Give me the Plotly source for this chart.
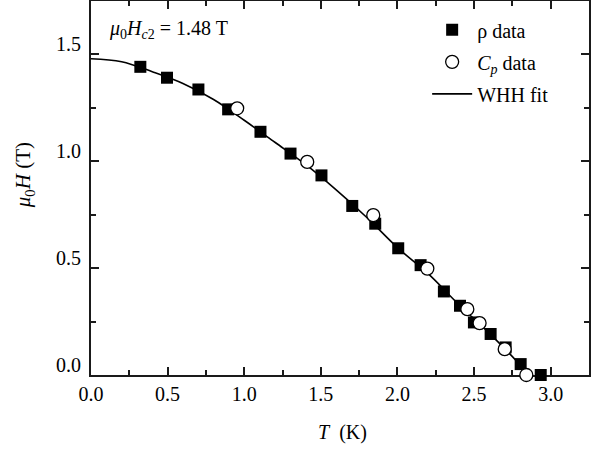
import plotly.graph_objects as go

# rho data (squares)
rho_T = [0.322, 0.496, 0.701, 0.895, 1.106, 1.302, 1.504, 1.705, 1.855, 2.005, 2.151, 2.303,
         2.408, 2.499, 2.608, 2.706, 2.804, 2.935]
rho_H = [1.442, 1.391, 1.336, 1.243, 1.138, 1.036, 0.934, 0.791, 0.708, 0.593, 0.514, 0.391,
         0.324, 0.246, 0.192, 0.129, 0.051, 0.0]

# Cp data (open circles)
cp_T = [0.954, 1.411, 1.842, 2.195, 2.456, 2.536, 2.700, 2.841]
cp_H = [1.248, 0.997, 0.748, 0.498, 0.308, 0.243, 0.121, 0.0]

# WHH fit curve
fit_T = [0.0, 0.2, 0.4, 0.6, 0.8, 1.0, 1.2, 1.4, 1.6, 1.8, 2.0, 2.2, 2.4, 2.6, 2.7, 2.8, 2.835]
fit_H = [1.48, 1.466, 1.419, 1.364, 1.289, 1.192, 1.089, 0.985, 0.866, 0.737, 0.596, 0.474,
         0.33, 0.195, 0.123, 0.045, 0.0]

x_ticks = [0.0, 0.5, 1.0, 1.5, 2.0, 2.5, 3.0]
y_ticks = [0.0, 0.5, 1.0, 1.5]

FONT = "Liberation Serif, serif"
AX = "#1a1a1a"

fig = go.Figure()
fig.add_trace(go.Scatter(x=fit_T, y=fit_H, mode="lines", name="WHH fit", legendgroup="c",
                         line=dict(color="black", width=1.6, shape="spline"),
                         legendrank=3, cliponaxis=False))
fig.add_trace(go.Scatter(x=rho_T, y=rho_H, mode="markers", name="ρ data", legendgroup="a",
                         marker=dict(symbol="square", size=12, color="black",
                                     line=dict(width=0)),
                         legendrank=1, cliponaxis=False))
fig.add_trace(go.Scatter(x=cp_T, y=cp_H, mode="markers", name="<i>C</i><sub><i>p</i></sub> data",
                         legendgroup="b",
                         marker=dict(symbol="circle", size=13, color="white",
                                     line=dict(width=1.3, color="black")),
                         legendrank=2, cliponaxis=False))

axis_common = dict(
    showline=True, linewidth=2.2, linecolor=AX, mirror="ticks",
    ticks="inside", ticklen=8, tickwidth=2, tickcolor=AX,
    showgrid=False, zeroline=False, layer="below traces", automargin=False,
    tickfont=dict(family=FONT, size=20, color="black"),
)

fig.update_xaxes(range=[0, 3.25], tickvals=x_ticks, ticktext=[f"{v:.1f}" for v in x_ticks],
                 minor=dict(dtick=0.25, tick0=0, ticks="inside", ticklen=5, tickwidth=2, tickcolor=AX),
                 ticklabelstandoff=0, **axis_common)
fig.update_yaxes(range=[0, 1.75], tickvals=y_ticks, ticktext=[f"{v:.1f}" for v in y_ticks],
                 minor=dict(dtick=0.25, tick0=0, ticks="inside", ticklen=5, tickwidth=2, tickcolor=AX),
                 ticklabelshift=-10, ticklabelstandoff=4, **axis_common)

fig.update_layout(
    width=601, height=455,
    margin=dict(l=91, r=12, t=1, b=80),
    plot_bgcolor="white", paper_bgcolor="white",
    font=dict(family=FONT, size=20, color="black"),
    showlegend=True,
    legend=dict(x=0.675, y=0.975, xanchor="left", yanchor="top",
                bgcolor="rgba(0,0,0,0)", font=dict(family=FONT, size=20),
                tracegroupgap=3, itemwidth=40),
    annotations=[
        dict(text="<i>μ</i><sub>0</sub><i>H</i><sub><i>c</i>2</sub> = 1.48 T",
             xref="paper", yref="paper", x=0.033, y=0.925, xanchor="left", yanchor="middle",
             showarrow=False, font=dict(family=FONT, size=20)),
        dict(text="<i>μ</i><sub>0</sub><i>H</i> (T)", textangle=-90,
             xref="paper", yref="paper", x=-0.134, y=0.535, xanchor="center", yanchor="middle",
             showarrow=False, font=dict(family=FONT, size=21)),
        dict(text="<i>T</i>  (K)",
             xref="paper", yref="paper", x=0.505, y=-0.153, xanchor="center", yanchor="middle",
             showarrow=False, font=dict(family=FONT, size=20)),
    ],
)

fig.write_html("out.html", config={"displayModeBar": False},
               post_script="document.body.style.margin='0px';document.body.style.overflow='hidden';")
